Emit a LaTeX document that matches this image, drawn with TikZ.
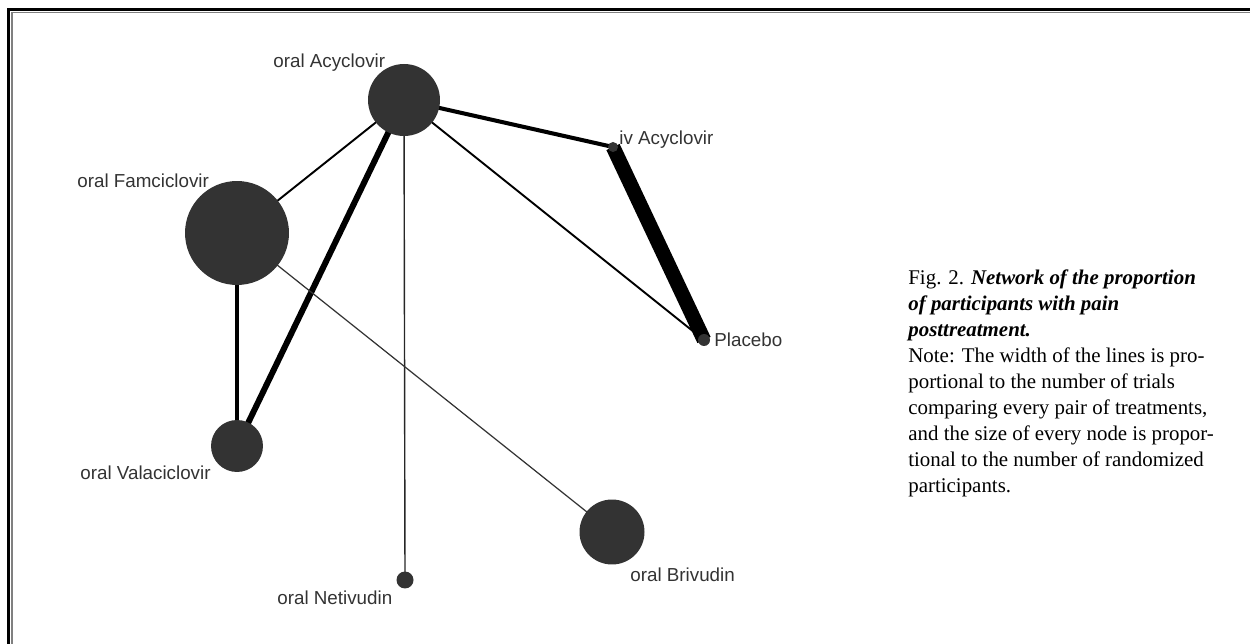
\documentclass[tikz,border=0pt]{standalone}
\usepackage{fontspec}
\setmainfont{Liberation Serif}
\newfontfamily\lblfont{Liberation Sans}
\usepackage{tikz}
\usetikzlibrary{backgrounds}
\definecolor{nodegray}{HTML}{333333}

\begin{document}
\begin{tikzpicture}[x=0.02cm, y=-0.02cm,
    trt/.style = {circle, fill=nodegray, inner sep=0pt, minimum size=#1},
    lbl/.style = {anchor=base west, inner sep=0pt, text=nodegray,
                  font=\lblfont\fontsize{10.7}{12.8}\selectfont},
    edge/.style = {draw=black, line width=#1}]

    \useasboundingbox (0,0) rectangle (1250,644);

    % frame
    \draw[line width=1.8pt] (8.5,700) -- (8.5,9.5) -- (1300,9.5);
    \draw[gray, line width=0.6pt] (12,700) -- (12,12.8) -- (1300,12.8);

    % treatments
    \node[trt=1.44cm] (acy) at (404,100) {};
    \node[trt=2.08cm] (fam) at (237,233) {};
    \node[trt=0.2cm]  (iv)  at (613,147) {};
    \node[trt=0.24cm] (pla) at (704,340) {};
    \node[trt=1.04cm] (val) at (237,446) {};
    \node[trt=1.3cm]  (bri) at (612,532) {};
    \node[trt=0.34cm] (net) at (405,580) {};

    \node[lbl] (lacy) at (273,67.5)  {oral Acyclovir};
    \node[lbl] (liv)  at (619,144.5) {iv Acyclovir};
    \node[lbl] (lfam) at (77,187.5)  {oral Famciclovir};
    \node[lbl] (lpla) at (714,346.5) {Placebo};
    \node[lbl] (lval) at (80,480)    {oral Valaciclovir};
    \node[lbl] (lbri) at (630,581.5) {oral Brivudin};
    \node[lbl] (lnet) at (277,604.5) {oral Netivudin};

    % comparisons, width ~ number of trials
    \begin{pgfonlayer}{background}
        \draw[edge=2.3pt] (acy.center) -- (iv.center);
        \draw[edge=8.3pt] (iv.center) -- (pla.center);
        \draw[edge=1.1pt] (acy.center) -- (pla.center);
        \draw[edge=1.1pt] (acy.center) -- (fam.center);
        \draw[edge=3.4pt] (acy.center) -- (val.center);
        \draw[edge=0.8pt, black!85] (acy.center) -- (net.center);
        \draw[edge=2.2pt] (fam.center) -- (val.center);
        \draw[edge=0.7pt, black!80] (fam.center) -- (bri.center);
    \end{pgfonlayer}

    \node[anchor=north west, inner sep=0pt, align=left,
          font=\fontsize{11.9}{14.8}\selectfont] (cap) at (908,269)
        {Fig. 2. \textbf{\textit{Network of the proportion}}\\
         \textbf{\textit{of participants with pain}}\\
         \textbf{\textit{posttreatment.}}\\
         Note: The width of the lines is pro-\\
         portional to the number of trials\\
         comparing every pair of treatments,\\
         and the size of every node is propor-\\
         tional to the number of randomized\\
         participants.};

\end{tikzpicture}
\end{document}
